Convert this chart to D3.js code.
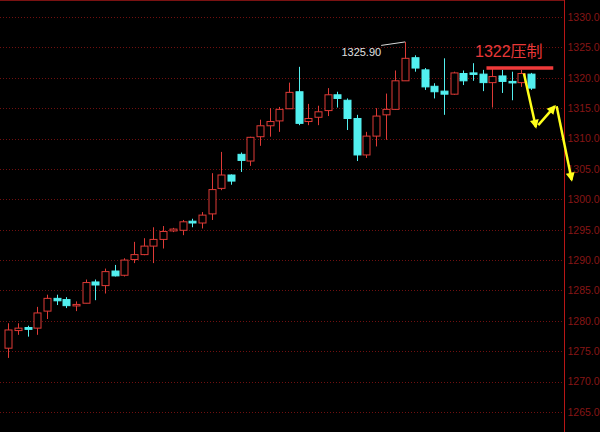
<!DOCTYPE html>
<html><head><meta charset="utf-8">
<script src="https://cdn.jsdelivr.net/npm/d3@7"></script>
<style>html,body{margin:0;padding:0;background:#000;}svg{display:block;}</style>
</head><body>
<svg id="c" width="600" height="432"></svg>
<script>
// OHLC values (one candle per index)
const opens  = [1275.5,1278.4,1278.9,1278.8,1281.6,1283.7,1283.5,1282.5,1282.9,1286.4,1285.8,1288.2,1287.5,1290.1,1290.9,1292.3,1293.4,1294.8,1294.9,1296.4,1296.1,1297.6,1301.8,1304.0,1307.4,1306.3,1310.3,1312.1,1312.9,1314.9,1317.7,1312.8,1313.5,1314.6,1317.2,1316.3,1313.3,1307.3,1310.4,1313.9,1314.8,1319.5,1323.3,1321.3,1318.6,1317.8,1317.3,1320.7,1320.8,1320.6,1319.2,1320.3,1319.4,1319.2,1320.6];
const highs  = [1279.6,1279.6,1279.2,1282.3,1284.3,1284.3,1283.9,1283.2,1286.8,1286.8,1288.6,1289.2,1290.3,1293.0,1293.6,1295.4,1295.6,1295.3,1296.6,1296.8,1297.9,1304.3,1307.8,1304.1,1307.7,1310.3,1313.1,1315.0,1315.2,1319.2,1321.8,1315.7,1315.4,1318.3,1317.7,1316.6,1313.9,1311.1,1315.0,1317.4,1321.2,1325.9,1323.7,1321.6,1319.1,1323.2,1321.0,1321.2,1322.4,1321.3,1321.6,1321.3,1321.0,1321.3,1320.8];
const lows   = [1273.9,1277.7,1277.4,1277.7,1280.3,1282.6,1282.1,1281.6,1282.9,1283.4,1284.5,1287.3,1287.3,1289.5,1290.8,1289.5,1291.9,1294.6,1294.1,1295.4,1295.2,1296.6,1301.5,1302.4,1304.5,1305.5,1308.8,1310.3,1311.1,1314.9,1312.2,1312.2,1312.2,1313.7,1315.1,1311.4,1306.3,1306.8,1308.7,1309.8,1314.7,1319.5,1321.0,1318.0,1316.6,1313.9,1317.2,1318.8,1319.5,1317.8,1315.1,1317.5,1316.3,1318.5,1318.0];
const closes = [1278.5,1278.8,1278.6,1281.3,1283.7,1283.3,1282.5,1282.7,1286.3,1285.9,1288.1,1287.4,1290.0,1290.9,1292.3,1293.4,1294.7,1295.1,1296.3,1296.1,1297.4,1301.6,1304.0,1303.0,1306.4,1310.2,1312.1,1312.8,1314.8,1317.6,1312.5,1313.3,1314.4,1317.2,1316.6,1313.3,1307.3,1310.4,1313.7,1314.8,1319.5,1323.2,1321.6,1318.5,1317.7,1317.3,1320.8,1319.5,1320.6,1319.2,1320.2,1319.4,1319.2,1320.7,1318.3];
const yTicks = [1265,1270,1275,1280,1285,1290,1295,1300,1305,1310,1315,1320,1325,1330];
const highLabel = "1325.90";
const highIndex = 41;
const resistLabel = "1322压制";
const resistPrice = 1321.6;
const resistRange = [49.4, 56.3];
// yellow arrows: [startIndex, startPrice, endIndex, endPrice]
const arrows = [
  [53.27, 1320.7, 54.5, 1311.9],
  [54.75, 1312.2, 56.45, 1315.3],
  [56.65, 1315.3, 58.2, 1303.2]
];

const svg = d3.select("#c");
const W = 600, H = 432, axisX = 564.5;
const x = d3.scaleLinear().domain([0, 54]).range([8.3, 531]);
const y = d3.scaleLinear().domain([1265, 1330]).range([412, 17]);

svg.append("rect").attr("width", W).attr("height", H).attr("fill", "#000");

// grid
svg.append("g").selectAll("line").data(yTicks).join("line")
  .attr("x1", 0).attr("x2", axisX).attr("y1", d => Math.round(y(d)) + 0.5).attr("y2", d => Math.round(y(d)) + 0.5)
  .attr("stroke", "#701010").attr("stroke-dasharray", "1,2").attr("stroke-width", 1);

// borders
svg.append("line").attr("x1", 0).attr("x2", axisX).attr("y1", 0.5).attr("y2", 0.5).attr("stroke", "#7a1212");
svg.append("line").attr("x1", axisX).attr("x2", axisX).attr("y1", 0).attr("y2", H).attr("stroke", "#b81616");

// axis labels
const axis = d3.axisRight(y).tickValues(yTicks).tickFormat(d3.format(".1f")).tickSize(0);
const ag = svg.append("g").attr("transform", `translate(${axisX},0)`).call(axis);
ag.select(".domain").remove();
ag.selectAll(".tick text").attr("fill", "#861616").attr("font-size", 10.5)
  .attr("font-family", "Liberation Sans, Arial, sans-serif").attr("x", 3);

// candles
const idx = d3.range(opens.length);
const up = i => closes[i] >= opens[i];
const bodyW = 7;
const cg = svg.append("g");
cg.selectAll("line.wick").data(idx).join("line").attr("class", "wick")
  .attr("x1", i => Math.round(x(i)) + 0.5).attr("x2", i => Math.round(x(i)) + 0.5)
  .attr("y1", i => y(highs[i])).attr("y2", i => y(lows[i]))
  .attr("stroke", i => up(i) ? "#de3a36" : "#52f0f0").attr("stroke-width", 1);
cg.selectAll("rect.body").data(idx).join("rect").attr("class", "body")
  .attr("x", i => Math.round(x(i)) + 0.5 - bodyW / 2)
  .attr("width", bodyW)
  .attr("y", i => y(Math.max(opens[i], closes[i])))
  .attr("height", i => Math.max(1.5, Math.abs(y(opens[i]) - y(closes[i]))))
  .attr("fill", i => up(i) ? "#000" : "#52f0f0")
  .attr("stroke", i => up(i) ? "#de3a36" : "#52f0f0").attr("stroke-width", 1);

// high label
const hx = x(highIndex), hy = y(highs[highIndex]);
svg.append("line").attr("x1", hx - 24).attr("y1", hy + 3.5).attr("x2", hx).attr("y2", hy)
  .attr("stroke", "#d8d8d8").attr("stroke-width", 1);
svg.append("text").attr("x", hx - 24).attr("y", hy + 14).attr("text-anchor", "end")
  .attr("fill", "#e0e0e0").attr("font-size", 11).attr("font-family", "Liberation Sans, Arial, sans-serif")
  .text(highLabel);

// resistance line and label
svg.append("line").attr("x1", x(resistRange[0])).attr("x2", x(resistRange[1]))
  .attr("y1", y(resistPrice)).attr("y2", y(resistPrice))
  .attr("stroke", "#f03a3a").attr("stroke-width", 3.5);
svg.append("text").attr("x", 475).attr("y", 57).attr("fill", "#e83838")
  .attr("font-size", 16).attr("font-family", "Liberation Sans, Noto Sans CJK SC, sans-serif")
  .text(resistLabel);

// yellow arrows
const defs = svg.append("defs");
defs.append("marker").attr("id", "ah").attr("viewBox", "0 0 10 10").attr("refX", 8).attr("refY", 5)
  .attr("markerWidth", 4.2).attr("markerHeight", 3.6).attr("orient", "auto")
  .attr("markerUnits", "strokeWidth")
  .append("path").attr("d", "M0,0 L10,5 L0,10 Z").attr("fill", "#ffff1a");
svg.append("g").selectAll("line").data(arrows).join("line")
  .attr("x1", d => x(d[0])).attr("y1", d => y(d[1]))
  .attr("x2", d => x(d[2])).attr("y2", d => y(d[3]))
  .attr("stroke", "#ffff1a").attr("stroke-width", 2.5).attr("marker-end", "url(#ah)");
</script>
</body></html>
